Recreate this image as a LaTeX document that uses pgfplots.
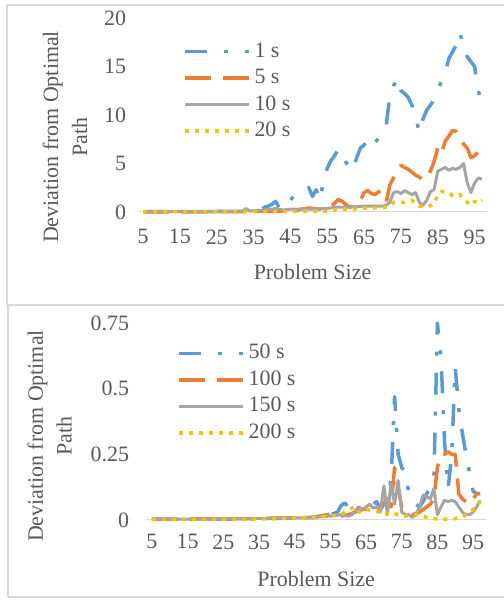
\documentclass[border=0pt]{standalone}
\usepackage{pgfplots}
\pgfplotsset{compat=1.18}
\usepackage{fontspec}
\setmainfont{Liberation Serif}
\definecolor{sblue}{HTML}{5B9BD5}
\definecolor{sorange}{HTML}{ED7D31}
\definecolor{sgray}{HTML}{A5A5A5}
\definecolor{syellow}{HTML}{FFC000}
\definecolor{txt}{HTML}{595959}
\definecolor{frm}{HTML}{D9D9D9}

\pgfplotsset{
  chart/.style={
    scale only axis,
    xmin=3.5, xmax=98.5,
    xtick={5,15,25,35,45,55,65,75,85,95},
    xticklabels={5,15,25,35,45,55,65,75,85,95},
    axis x line*=bottom, axis y line*=left,
    x axis line style={draw=frm, line width=1bp},
    y axis line style={draw=none},
    major tick length=0pt,
    tick label style={font=\fontsize{22}{26}\selectfont, text=txt},
    label style={font=\fontsize{22}{29}\selectfont, text=txt},
    legend style={draw=none, fill=none, inner sep=0pt, outer sep=0pt, row sep=7.5bp,
      font=\fontsize{22}{26}\selectfont, text=txt,
      nodes={inner sep=0pt, text height=15bp, text depth=4bp},
      /tikz/every odd column/.append style={column sep=4bp}},
    legend cell align=left,
    legend image code/.code={\draw[##1] (0bp,0bp) -- (64bp,0bp);},
    every axis plot/.append style={line width=3.5bp, line cap=butt, line join=round},
    clip=false,
  },
  sA/.style={sblue, dash pattern=on 22bp off 17bp on 4bp off 17bp},
  sB/.style={sorange, dash pattern=on 26bp off 12bp},
  sC/.style={sgray, line width=3bp},
  sD/.style={syellow, dash pattern=on 4bp off 6bp},
}

\begin{document}
\begin{tikzpicture}
\useasboundingbox (0,0) rectangle (504bp,603bp);
% panel frames
\draw[frm, line width=1.2bp] (7bp,598bp) -- (504bp,598bp);
\draw[frm, line width=1.2bp] (7bp,598bp) -- (7bp,298bp);
\draw[frm, line width=2bp] (7bp,298bp) -- (504bp,298bp);
\draw[frm, line width=1.2bp] (8bp,298bp) -- (8bp,6bp);
\draw[frm, line width=1.2bp] (8bp,6bp) -- (504bp,6bp);

% ---------- top panel ----------
\begin{axis}[chart,
  at={(137.5bp,391bp)}, anchor=south west,
  width=350bp, height=194bp,
  ymin=0, ymax=20,
  ytick={0,5,10,15,20}, yticklabels={0,5,10,15,20},
  yticklabel style={xshift=-8bp},
  xticklabel style={yshift=-14bp},
  xlabel={Problem Size},
  xlabel style={at={(axis description cs:0.5,-0.309)}, anchor=center},
  ylabel={Deviation from Optimal\\Path},
  ylabel style={align=center, at={(axis description cs:-0.207,0.387)}, anchor=center},
  legend style={at={(axis description cs:0.13,0.876)}, anchor=north west},
]
\addplot[sA] coordinates {(5,0.05)(10,0.05)(15,0.05)(20,0.05)(25,0.05)(30,0.1)(35,0.1)(37,0.2)(38,0.5)(39,0.6)(40,0.8)(41,1.1)(42,0.4)(43,0.3)(44,0.6)(45,1.2)(46,1.7)(47,1.9)(48,2.1)(49,2.3)(50,2.5)(51,1.6)(52,2.3)(53,1.2)(54,3.2)(55,4.5)(56,5.3)(57,5.8)(58,6.5)(59,6.0)(60,5.2)(61,4.5)(62,4.3)(63,5.6)(64,6.6)(65,6.9)(66,7.6)(67,7.8)(68,7.2)(69,7.6)(70,8.0)(71,8.9)(72,12.0)(73,13.0)(74,13.8)(75,12.5)(76,12.2)(77,11.8)(78,11.0)(79,9.8)(80,8.2)(81,9.6)(82,10.5)(83,11.0)(84,11.6)(85,12.5)(86,13.5)(87,14.3)(88,15.8)(89,16.5)(90,17.2)(91,18.5)(92,17.0)(93,16.0)(94,15.5)(95,15.0)(96,12.5)(97,11.2)};
\addlegendentry{1 s}
\addplot[sB] coordinates {(5,0.02)(20,0.02)(30,0.03)(40,0.1)(45,0.1)(47,0.2)(48,0.3)(50,0.4)(52,0.35)(53,0.3)(55,0.4)(56,0.6)(57,0.9)(58,1.3)(59,1.1)(60,0.8)(61,0.5)(62,0.6)(63,0.7)(64,1.2)(65,2.0)(66,2.2)(67,1.9)(68,1.8)(69,2.1)(70,1.4)(71,1.0)(72,2.8)(73,3.5)(74,4.3)(75,4.8)(76,4.6)(77,4.4)(78,4.1)(79,3.8)(80,3.6)(81,3.3)(82,3.5)(83,4.2)(84,5.2)(85,6.6)(86,6.0)(87,7.3)(88,7.8)(89,8.4)(90,8.3)(91,7.8)(92,7.0)(93,6.6)(94,5.6)(95,5.8)(96,6.2)(97,5.5)};
\addlegendentry{5 s}
\addplot[sC] coordinates {(5,0.05)(30,0.08)(32,0.1)(33,0.35)(34,0.1)(36,0.15)(38,0.2)(40,0.3)(41,0.35)(43,0.2)(45,0.3)(50,0.3)(55,0.35)(57,0.5)(60,0.5)(65,0.6)(70,0.6)(71,0.7)(72,1.0)(73,2.0)(74,2.1)(75,1.9)(76,2.2)(77,2.0)(78,1.8)(79,2.0)(80,1.0)(81,0.7)(82,1.2)(83,2.1)(84,2.3)(85,4.2)(86,4.4)(87,4.6)(88,4.3)(89,4.5)(90,4.4)(91,4.6)(92,5.0)(93,3.0)(94,2.0)(95,3.0)(96,3.5)(97,3.4)};
\addlegendentry{10 s}
\addplot[sD] coordinates {(5,0.02)(40,0.05)(55,0.1)(58,0.3)(62,0.3)(65,0.4)(70,0.45)(72,0.6)(73,1.0)(76,1.0)(78,1.2)(79,0.9)(80,0.6)(82,0.5)(84,0.8)(85,1.8)(86,2.1)(88,2.0)(89,1.7)(90,1.6)(91,1.8)(92,1.4)(93,1.0)(94,0.7)(95,1.1)(96,0.9)(97,1.2)};
\addlegendentry{20 s}
\end{axis}

% ---------- bottom panel ----------
\begin{axis}[chart,
  at={(146.6bp,83bp)}, anchor=south west,
  width=339bp, height=197bp,
  ymin=0, ymax=0.75,
  ytick={0,0.25,0.5,0.75}, yticklabels={0,0.25,0.5,0.75},
  yticklabel style={xshift=-14bp},
  xticklabel style={yshift=-11bp},
  xlabel={Problem Size},
  xlabel style={at={(axis description cs:0.5,-0.30)}, anchor=center},
  ylabel={Deviation from Optimal\\Path},
  ylabel style={align=center, at={(axis description cs:-0.286,0.426)}, anchor=center},
  legend style={at={(axis description cs:0.09,0.894)}, anchor=north west},
]
\addplot[sA] coordinates {(5,0.002)(20,0.003)(30,0.004)(40,0.006)(45,0.008)(50,0.01)(55,0.02)(57,0.03)(58,0.055)(59,0.065)(60,0.05)(61,0.02)(62,0.03)(63,0.05)(64,0.06)(65,0.055)(66,0.05)(67,0.06)(68,0.07)(69,0.04)(70,0.06)(71,0.1)(72,0.15)(73,0.47)(74,0.25)(75,0.2)(76,0.18)(77,0.1)(78,0.08)(79,0.06)(80,0.05)(81,0.07)(82,0.1)(83,0.12)(84,0.15)(85,0.75)(86,0.62)(87,0.3)(88,0.12)(89,0.25)(90,0.58)(91,0.42)(92,0.33)(93,0.25)(94,0.18)(95,0.11)(96,0.1)(97,0.1)};
\addlegendentry{50 s}
\addplot[sB] coordinates {(5,0.003)(20,0.004)(30,0.005)(40,0.007)(45,0.008)(50,0.01)(52,0.015)(54,0.02)(56,0.025)(57,0.02)(58,0.015)(60,0.02)(62,0.03)(64,0.04)(66,0.045)(68,0.05)(70,0.06)(71,0.08)(72,0.05)(73,0.2)(74,0.12)(75,0.05)(76,0.03)(78,0.02)(80,0.03)(82,0.05)(83,0.06)(84,0.08)(85,0.2)(86,0.25)(87,0.25)(88,0.26)(89,0.25)(90,0.25)(91,0.1)(92,0.08)(93,0.07)(94,0.06)(95,0.08)(96,0.1)(97,0.1)};
\addlegendentry{100 s}
\addplot[sC] coordinates {(5,0.003)(20,0.003)(30,0.005)(40,0.007)(45,0.008)(50,0.008)(52,0.012)(55,0.015)(58,0.02)(60,0.015)(61,0.02)(62,0.035)(63,0.05)(64,0.04)(65,0.05)(66,0.06)(67,0.045)(68,0.05)(69,0.03)(70,0.13)(71,0.02)(72,0.14)(73,0.06)(74,0.15)(75,0.03)(76,0.02)(77,0.02)(78,0.01)(79,0.02)(80,0.05)(81,0.095)(82,0.09)(83,0.08)(84,0.12)(85,0.02)(86,0.05)(87,0.075)(88,0.07)(89,0.075)(90,0.07)(91,0.05)(92,0.03)(93,0.02)(94,0.02)(95,0.03)(96,0.05)(97,0.075)};
\addlegendentry{150 s}
\addplot[sD] coordinates {(5,0.002)(30,0.003)(40,0.005)(50,0.01)(55,0.015)(58,0.02)(60,0.04)(62,0.05)(63,0.03)(65,0.04)(67,0.035)(69,0.03)(70,0.02)(72,0.03)(74,0.02)(76,0.015)(78,0.02)(80,0.02)(82,0.01)(84,0.005)(86,0.003)(88,0.003)(90,0.005)(92,0.01)(93,0.02)(94,0.03)(95,0.04)(96,0.05)(97,0.07)};
\addlegendentry{200 s}
\end{axis}
\end{tikzpicture}
\end{document}
